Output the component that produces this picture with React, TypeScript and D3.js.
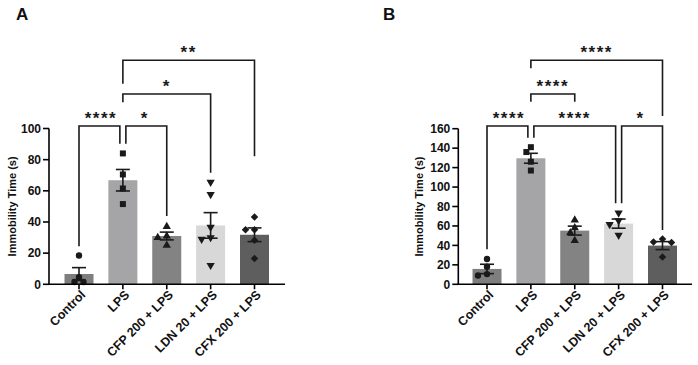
import * as d3 from "d3";

const W = 698;
const H = 365;
const FONT = "Arial, 'Liberation Sans', sans-serif";

const categories = ["Control", "LPS", "CFP 200 + LPS", "LDN 20 + LPS", "CFX 200 + LPS"];
const barColors = ["#7e7e7e", "#a5a5a7", "#838383", "#d8d8d8", "#5e5e5e"];
const markers = ["circle", "square", "triangle", "triangleDown", "diamond"];

// Panel A
const meansA = [6.6, 66.8, 31, 37.8, 31.8];
const semsA = [4.1, 6.9, 2.5, 8.2, 4.4];
const pointsA = [
  [18.5, 4.5, 1.5, 1.5],
  [84, 70.5, 61.5, 51.5],
  [37, 31, 30, 25],
  [65.6, 57.7, 36.7, 30, 29, 12.2],
  [43.2, 35, 35, 28.3, 16.5],
];
const ticksA = [0, 20, 40, 60, 80, 100];
// [from, to, label, row, fromLegEnd, toLegEnd]
const bracketsA: [number, number, string, number, number, number][] = [
  [0, 1, "****", 0, 24.4, 90.2],
  [1, 2, "*", 0, 90.2, 43.8],
  [1, 3, "*", 1, 116.9, 71.6],
  [1, 4, "**", 2, 128.7, 82.2],
];

// Panel B
const meansB = [15.8, 129.6, 55.2, 62.4, 39.8];
const semsB = [4.8, 5.1, 4.6, 4.7, 4.1];
const pointsB = [
  [26, 18, 10.5, 9],
  [141, 136, 126, 117],
  [66, 58, 53, 45],
  [73.5, 65.5, 61.5, 50.5],
  [46.5, 43.5, 43, 28],
];
const ticksB = [0, 20, 40, 60, 80, 100, 120, 140, 160];
const bracketsB: [number, number, string, number, number, number][] = [
  [0, 1, "****", 0, 36, 150.7],
  [1, 3, "****", 0, 150.7, 83.3],
  [3, 4, "*", 0, 83.3, 55.8],
  [1, 2, "****", 1, 187.8, 187.8],
  [1, 4, "****", 2, 222.1, 173],
];

const BRACKET_ROWS = [126, 94, 60.3];

type PanelProps = {
  letter: string;
  letterX: number;
  axisX: number;
  axisEnd: number;
  firstCenter: number;
  lastCenter: number;
  titleX: number;
  yMax: number;
  y0: number;
  yTop: number;
  ticks: number[];
  means: number[];
  sems: number[];
  points: number[][];
  brackets: [number, number, string, number, number, number][];
};

const symbolPath = (kind: string) => {
  if (kind === "circle") return d3.symbol(d3.symbolCircle, 32)()!;
  if (kind === "square") return d3.symbol(d3.symbolSquare, 36)()!;
  if (kind === "diamond") return d3.symbol(d3.symbolSquare, 28)()!;
  return d3.symbol(d3.symbolTriangle, 30)()!;
};

const symbolRotate = (kind: string) =>
  kind === "diamond" ? 45 : kind === "triangleDown" ? 180 : 0;

// simple beeswarm: nudge sideways until points don't overlap
const swarm = (ys: number[]) => {
  const placed: { x: number; y: number }[] = [];
  const step = 4.5;
  const minDist = 6;
  return ys.map((y) => {
    let off = 0;
    for (let k = 0; k < 12; k++) {
      const cand = k === 0 ? 0 : (k % 2 === 1 ? -1 : 1) * Math.ceil(k / 2) * step;
      const ok = placed.every((p) => Math.hypot(p.x - cand, p.y - y) >= minDist);
      if (ok) {
        off = cand;
        break;
      }
    }
    placed.push({ x: off, y });
    return off;
  });
};

const Panel = (p: PanelProps) => {
  const yScale = d3.scaleLinear().domain([0, p.yMax]).range([p.y0, p.yTop]);
  const xScale = d3
    .scalePoint<string>()
    .domain(categories)
    .range([p.firstCenter, p.lastCenter]);
  const barW = 29;
  const capW = 14;
  const ink = "#1a1a1a";

  return (
    <g>
      <text x={p.letterX} y={20} fontFamily={FONT} fontWeight="bold" fontSize={17} fill="#111">
        {p.letter}
      </text>

      {/* bars */}
      {categories.map((c, i) => (
        <rect
          key={c}
          x={xScale(c)! - barW / 2}
          y={yScale(p.means[i])}
          width={barW}
          height={p.y0 - yScale(p.means[i])}
          fill={barColors[i]}
        />
      ))}

      {/* points */}
      {categories.map((c, i) => {
        const ys = p.points[i].map((v) => yScale(v));
        const offs = swarm(ys);
        return ys.map((y, j) => (
          <path
            key={c + j}
            d={symbolPath(markers[i])}
            transform={`translate(${xScale(c)! + offs[j]},${y}) rotate(${symbolRotate(markers[i])})`}
            fill={ink}
          />
        ));
      })}

      {/* error bars */}
      {categories.map((c, i) => {
        const cx = xScale(c)!;
        const hi = yScale(p.means[i] + p.sems[i]);
        const lo = yScale(p.means[i] - p.sems[i]);
        return (
          <g key={c} stroke={ink} strokeWidth={1.6}>
            <line x1={cx} x2={cx} y1={hi} y2={lo} />
            <line x1={cx - capW / 2} x2={cx + capW / 2} y1={hi} y2={hi} />
            <line x1={cx - capW / 2} x2={cx + capW / 2} y1={lo} y2={lo} />
          </g>
        );
      })}

      {/* axes */}
      <g stroke="#000" strokeWidth={1.6}>
        <line x1={p.axisX} x2={p.axisX} y1={p.y0} y2={yScale(p.yMax)} />
        <line x1={p.axisX - 0.8} x2={p.axisEnd} y1={p.y0} y2={p.y0} />
        {p.ticks.map((t) => (
          <line key={t} x1={p.axisX - 6} x2={p.axisX} y1={yScale(t)} y2={yScale(t)} />
        ))}
        {categories.map((c) => (
          <line key={c} x1={xScale(c)} x2={xScale(c)} y1={p.y0} y2={p.y0 + 5} />
        ))}
      </g>
      {p.ticks.map((t) => (
        <text
          key={t}
          x={p.axisX - 8}
          y={yScale(t)}
          dy="0.36em"
          textAnchor="end"
          fontFamily={FONT}
          fontWeight="bold"
          fontSize={12}
          fill="#111"
        >
          {t}
        </text>
      ))}
      {categories.map((c) => (
        <text
          key={c}
          transform={`translate(${xScale(c)! + 4},${p.y0 + 8}) rotate(-45)`}
          dy="0.36em"
          textAnchor="end"
          fontFamily={FONT}
          fontWeight="bold"
          fontSize={12.5}
          fill="#111"
        >
          {c}
        </text>
      ))}
      <text
        transform={`translate(${p.titleX},${(p.y0 + yScale(p.yMax)) / 2}) rotate(-90)`}
        textAnchor="middle"
        fontFamily={FONT}
        fontWeight="bold"
        fontSize={11}
        fill="#111"
      >
        Immobility Time (s)
      </text>

      {/* significance brackets */}
      {p.brackets.map(([a, b, label, row, endA, endB], k) => {
        const y = BRACKET_ROWS[row];
        const shareLeft = p.brackets.some((o, m) => m !== k && o[3] === row && o[1] === a);
        const shareRight = p.brackets.some((o, m) => m !== k && o[3] === row && o[0] === b);
        const xa = xScale(categories[a])! + (shareLeft ? 3 : 0);
        const xb = xScale(categories[b])! - (shareRight ? 3 : 0);
        return (
          <g key={k}>
            <path
              d={`M${xa},${yScale(endA)}V${y}H${xb}V${yScale(endB)}`}
              fill="none"
              stroke={ink}
              strokeWidth={1.6}
            />
            <text
              x={(xScale(categories[a])! + xScale(categories[b])!) / 2}
              y={y - 2}
              textAnchor="middle"
              fontFamily={FONT}
              fontWeight="bold"
              fontSize={17}
              letterSpacing={1.5}
              fill={ink}
            >
              {label}
            </text>
          </g>
        );
      })}
    </g>
  );
};

export default function App() {
  return (
    <svg
      width={W}
      height={H}
      style={{ position: "absolute", left: 0, top: 0, background: "#fff" }}
    >
      <rect width={W} height={H} fill="#fff" />
      <Panel
        letter="A"
        letterX={16}
        axisX={49}
        axisEnd={285}
        firstCenter={79}
        lastCenter={254.5}
        titleX={15.5}
        yMax={100}
        y0={284.3}
        yTop={128.5}
        ticks={ticksA}
        means={meansA}
        sems={semsA}
        points={pointsA}
        brackets={bracketsA}
      />
      <Panel
        letter="B"
        letterX={383}
        axisX={458.3}
        axisEnd={692}
        firstCenter={487}
        lastCenter={662.5}
        titleX={423}
        yMax={160}
        y0={284.3}
        yTop={128.7}
        ticks={ticksB}
        means={meansB}
        sems={semsB}
        points={pointsB}
        brackets={bracketsB}
      />
    </svg>
  );
}
